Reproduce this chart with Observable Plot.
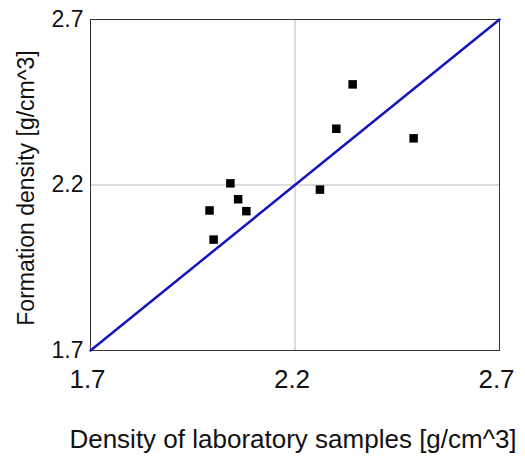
<!DOCTYPE html>
<html>
<head>
<meta charset="utf-8">
<script src="https://cdn.jsdelivr.net/npm/d3@7"></script>
<script src="https://cdn.jsdelivr.net/npm/@observablehq/plot@0.6"></script>
<style>
  html, body { margin: 0; padding: 0; background: #fff; }
  #chart svg { display: block; }
</style>
</head>
<body>
<div id="chart"></div>
<script>
// Density of laboratory samples (x) vs formation density (y), g/cm^3
const labDensity = [2.042, 2.061, 1.991, 2.081, 2.001, 2.261, 2.301, 2.341, 2.490];
const formationDensity = [2.205, 2.157, 2.123, 2.121, 2.035, 2.186, 2.370, 2.504, 2.341];
const ticks = [1.7, 2.2, 2.7];
const identityLine = [1.7, 2.7];
const xTitle = "Density of laboratory samples [g/cm^3]";
const yTitle = "Formation density [g/cm^3]";

const samples = labDensity.map((x, i) => ({x, y: formationDensity[i]}));
const font = "'Liberation Sans', Arial, Helvetica, sans-serif";

const chart = Plot.plot({
  width: 525,
  height: 456,
  marginLeft: 90,
  marginRight: 26,
  marginTop: 19,
  marginBottom: 106,
  style: {fontFamily: font, background: "#fff", color: "#111"},
  x: {domain: [1.7, 2.7], ticks},
  y: {domain: [1.7, 2.7], ticks},
  marks: [
    Plot.gridX([2.2], {stroke: "#b8b8b8", strokeOpacity: 1, strokeWidth: 1}),
    Plot.gridY([2.2], {stroke: "#b8b8b8", strokeOpacity: 1, strokeWidth: 1}),
    Plot.frame({stroke: "#333", strokeWidth: 1}),
    Plot.axisX(ticks, {tickSize: 0, tickPadding: 19, fontSize: 26, dx: -3, label: null, tickFormat: d3.format(".1f"), fill: "#111"}),
    Plot.axisY(ticks, {tickSize: 0, tickPadding: 7, fontSize: 23, label: null, tickFormat: d3.format(".1f"), fill: "#111"}),
    Plot.line(identityLine, {x: d => d, y: d => d, stroke: "#1414c0", strokeWidth: 2.5}),
    Plot.dot(samples, {x: "x", y: "y", symbol: "square", r: 4.8, fill: "#000", stroke: "none"}),
    Plot.text([xTitle], {frameAnchor: "bottom", text: d => d, dy: 89, dx: -2, fontSize: 26, textAnchor: "middle", lineAnchor: "middle", fill: "#111"}),
    Plot.text([yTitle], {frameAnchor: "left", text: d => d, dx: -64, dy: 3, rotate: -90, fontSize: 23, textAnchor: "middle", lineAnchor: "middle", fill: "#111"})
  ]
});
document.getElementById("chart").appendChild(chart);
</script>
</body>
</html>
